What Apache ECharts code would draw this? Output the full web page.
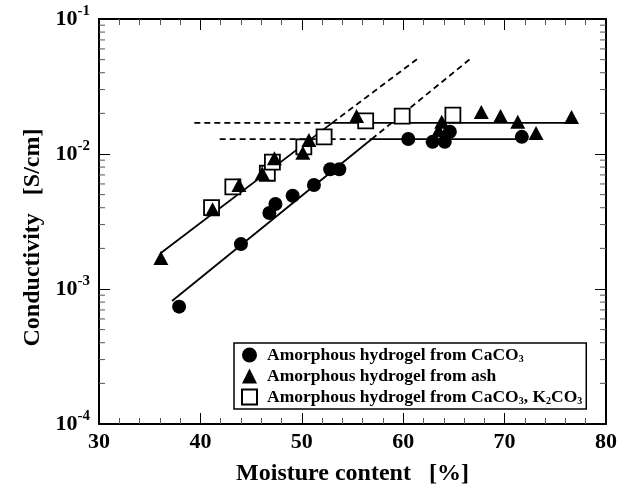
<!DOCTYPE html>
<html>
<head>
<meta charset="utf-8">
<script src="https://cdn.jsdelivr.net/npm/echarts@6/dist/echarts.min.js"></script>
<style>
  html, body { margin: 0; padding: 0; background: #fff; }
  #chart { width: 620px; height: 495px; }
</style>
</head>
<body>
<div id="chart"></div>
<script>
// measured points [moisture %, conductivity S/cm]
const caco3 = [[37.9, 7.4e-4], [44.0, 2.15e-3], [46.8, 3.66e-3], [47.4, 4.26e-3], [49.1, 4.9e-3],
    [51.2, 5.9e-3], [52.8, 7.7e-3], [53.7, 7.7e-3], [60.5, 1.29e-2], [62.9, 1.23e-2],
    [64.1, 1.23e-2], [64.6, 1.46e-2], [71.7, 1.34e-2]];
const ash = [[36.1, 1.7e-3], [41.2, 3.9e-3], [43.8, 5.9e-3], [46.1, 7.2e-3], [47.3, 9.3e-3],
    [50.1, 1.02e-2], [50.7, 1.27e-2], [55.4, 1.91e-2], [63.8, 1.73e-2], [63.5, 1.5e-2],
    [67.7, 2.05e-2], [69.6, 1.91e-2], [71.3, 1.73e-2], [73.1, 1.43e-2], [76.6, 1.88e-2]];
const caco3K2co3 = [[41.1, 4.0e-3], [43.2, 5.7e-3], [46.6, 7.2e-3], [47.1, 8.7e-3], [50.2, 1.13e-2],
    [52.2, 1.34e-2], [56.3, 1.76e-2], [59.9, 1.91e-2], [64.9, 1.94e-2]];

// fitted lines
const riseUpperSolid = [[36.1, 1.85e-3], [53.0, 1.70e-2]];
const riseUpperDash = [[53.0, 1.70e-2], [61.6, 5.2e-2]];
const riseLowerSolid = [[37.2, 8.15e-4], [56.9, 1.29e-2]];
const riseLowerDash = [[56.9, 1.29e-2], [66.8, 5.2e-2]];
const flatUpperDash = [[39.4, 1.70e-2], [53.0, 1.70e-2]];
const flatUpperSolid = [[53.0, 1.70e-2], [77.1, 1.70e-2]];
const flatLowerDash = [[41.9, 1.29e-2], [56.9, 1.29e-2]];
const flatLowerSolid = [[56.9, 1.29e-2], [71.5, 1.29e-2]];

// log minor tick values
const logMinor = [];
[1e-4, 1e-3, 1e-2].forEach(d => { for (let k = 2; k <= 9; k++) logMinor.push(+(d * k).toPrecision(3)); });

const names = ['Amorphous hydrogel from CaCO3', 'Amorphous hydrogel from ash', 'Amorphous hydrogel from CaCO3, K2CO3'];
const FONT = '"Liberation Serif", "Times New Roman", serif';

function fitLine(data, dashed) {
    return {
        type: 'line', data: data, symbol: 'none', silent: true, z: 1,
        lineStyle: { color: '#000', width: 1.8, type: dashed ? [6, 4] : 'solid' }
    };
}

const chart = echarts.init(document.getElementById('chart'));

const xCommon = {
    type: 'value', min: 30, max: 80, interval: 10,
    axisLine: { lineStyle: { color: '#000', width: 2 } },
    axisTick: { inside: true, length: 11, lineStyle: { color: '#000', width: 1 } },
    minorTick: { show: true, splitNumber: 5, length: 6, lineStyle: { color: '#555', width: 1 } },
    splitLine: { show: false }
};
const yCommon = {
    type: 'log', logBase: 10, min: 1e-4, max: 1e-1,
    axisLine: { lineStyle: { color: '#000', width: 2 } },
    axisTick: { inside: true, length: 11, lineStyle: { color: '#000', width: 1 } },
    splitLine: { show: false }
};

const option = {
    animation: false,
    backgroundColor: '#fff',
    grid: { left: 99, right: 13, top: 19, bottom: 71 },
    xAxis: [
        Object.assign({}, xCommon, {
            position: 'bottom',
            name: 'Moisture content   [%]', nameLocation: 'middle', nameGap: 38,
            nameTextStyle: { fontFamily: FONT, fontWeight: 'bold', fontSize: 24, color: '#000' },
            axisLabel: { margin: 7, fontFamily: FONT, fontWeight: 'bold', fontSize: 22, color: '#000' }
        }),
        Object.assign({}, xCommon, { position: 'top', axisLabel: { show: false } })
    ],
    yAxis: [
        Object.assign({}, yCommon, {
            position: 'left',
            name: 'Conductivity   [S/cm]', nameLocation: 'middle', nameGap: 54, nameRotate: 90,
            nameTextStyle: { fontFamily: FONT, fontWeight: 'bold', fontSize: 24, color: '#000', padding: [0, 32, 0, 0] },
            axisLabel: {
                margin: 9, fontFamily: FONT, fontWeight: 'bold', fontSize: 22, color: '#000',
                formatter: v => '10{sup|' + Math.round(Math.log10(v)) + '}',
                rich: { sup: { fontFamily: FONT, fontWeight: 'bold', fontSize: 15, color: '#000', verticalAlign: 'top', lineHeight: 30 } }
            }
        }),
        Object.assign({}, yCommon, { position: 'right', axisLabel: { show: false } })
    ],
    legend: {
        orient: 'vertical', left: 234, top: 343,
        width: 349,
        data: names,
        itemWidth: 15, itemHeight: 15, itemGap: 3,
        padding: [3, 4, 3, 7],
        borderColor: '#000', borderWidth: 1.5,
        backgroundColor: '#fff',
        textStyle: {
            fontFamily: FONT, fontWeight: 'bold', fontSize: 17.5, color: '#000', padding: [0, 0, 0, 5],
            rich: { sub: { fontFamily: FONT, fontWeight: 'bold', fontSize: 10, color: '#000', verticalAlign: 'bottom', padding: [5, 0, 0, 0] } }
        },
        formatter: n => n.replace(/CO3/g, 'CO{sub|3}').replace('K2', 'K{sub|2}')
    },
    series: [
        fitLine(riseUpperSolid, false), fitLine(riseUpperDash, true),
        fitLine(riseLowerSolid, false), fitLine(riseLowerDash, true),
        fitLine(flatUpperDash, true), fitLine(flatUpperSolid, false),
        fitLine(flatLowerDash, true), fitLine(flatLowerSolid, false),
        {
            type: 'custom', silent: true, z: 1,
            data: logMinor.map(v => [30, v]),
            renderItem: (params, api) => {
                const y = api.coord([30, api.value(1)])[1];
                const cs = params.coordSys;
                const st = { stroke: '#555', lineWidth: 1 };
                return {
                    type: 'group', children: [
                        { type: 'line', shape: { x1: cs.x, y1: y, x2: cs.x + 6, y2: y }, style: st },
                        { type: 'line', shape: { x1: cs.x + cs.width - 6, y1: y, x2: cs.x + cs.width, y2: y }, style: st }
                    ]
                };
            }
        },
        {
            name: names[2], type: 'scatter', data: caco3K2co3, symbol: 'rect', symbolSize: 15, z: 3,
            itemStyle: { color: '#fff', borderColor: '#000', borderWidth: 1.8, opacity: 1 }
        },
        {
            name: names[0], type: 'scatter', data: caco3, symbol: 'circle', symbolSize: 14, z: 4,
            itemStyle: { color: '#000', opacity: 1 }
        },
        {
            name: names[1], type: 'scatter', data: ash, symbol: 'triangle', symbolSize: [15, 14], z: 5,
            itemStyle: { color: '#000', opacity: 1 }
        }
    ]
};

chart.setOption(option);
</script>
</body>
</html>
